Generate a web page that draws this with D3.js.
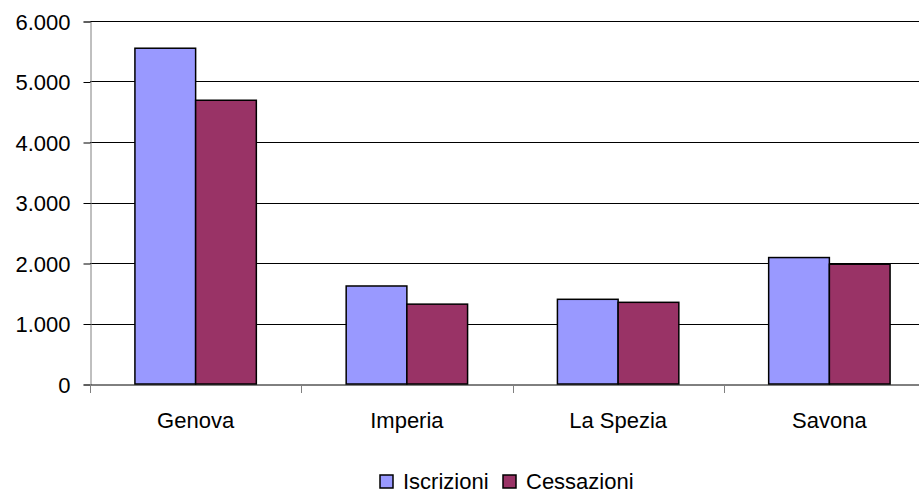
<!DOCTYPE html>
<html>
<head>
<meta charset="utf-8">
<script src="https://cdn.jsdelivr.net/npm/d3@7"></script>
<style>
  body { margin: 0; background: #fff; }
  text { font-family: Arial, "Liberation Sans", sans-serif; }
</style>
</head>
<body>
<div id="chart"></div>
<script>
// data
var provinces = ['Genova', 'Imperia', 'La Spezia', 'Savona']
var seriesNames = ['Iscrizioni', 'Cessazioni']
var iscrizioni = [5550, 1620, 1400, 2090]
var cessazioni = [4690, 1320, 1350, 1980]
var yTicks = [0, 1000, 2000, 3000, 4000, 5000, 6000]
var seriesColors = ['#9999FF', '#993366']

var width = 919
var height = 494

var margin = {
  top: 21,
  left: 90,
  bottom: 110
}

var svg = d3
  .select('#chart')
  .append('svg')
  .attr('width', width)
  .attr('height', height)

var itFormat = d3.formatLocale({
  decimal: ',',
  thousands: '.',
  grouping: [3],
  currency: ['€', '']
}).format(',')

var yScale = d3
  .scaleLinear()
  .domain([0, 6000])
  .range([height - margin.bottom, margin.top])

// the plot runs past the right edge of the picture, as in the original
var xScale = d3
  .scaleBand()
  .domain(provinces)
  .range([margin.left, margin.left + 4 * 211.25])

var xInner = d3
  .scaleBand()
  .domain(seriesNames)
  .range([0, xScale.bandwidth()])
  .paddingOuter(0.74)

var rows = provinces.map(function(p, i) {
  return { province: p, values: [iscrizioni[i], cessazioni[i]] }
})

// gridlines
svg
  .append('g')
  .selectAll('line')
  .data(yTicks.slice(1))
  .enter()
  .append('line')
  .attr('x1', margin.left)
  .attr('x2', width)
  .attr('y1', d => Math.round(yScale(d)) + 0.5)
  .attr('y2', d => Math.round(yScale(d)) + 0.5)
  .attr('stroke', '#000')
  .attr('stroke-width', 1)

// y axis
var yAxis = svg
  .append('g')
  .attr('transform', 'translate(' + (margin.left + 0.5) + ',0.5)')
  .call(
    d3.axisLeft(yScale)
      .tickValues(yTicks)
      .tickFormat(itFormat)
      .tickSize(7)
      .tickPadding(13)
  )
yAxis.select('.domain').attr('stroke', '#808080')
yAxis.selectAll('.tick line').attr('stroke', '#000')
yAxis
  .selectAll('.tick text')
  .attr('font-size', 22)
  .attr('fill', '#000')
  .attr('font-family', 'Arial, "Liberation Sans", sans-serif')
  .attr('dy', '0.35em')

// bars
var groups = svg
  .selectAll('.province')
  .data(rows)
  .enter()
  .append('g')
  .attr('class', 'province')
  .attr('transform', d => 'translate(' + xScale(d.province) + ',0)')

groups
  .selectAll('rect')
  .data(d => d.values.map((v, j) => ({ key: seriesNames[j], value: v, idx: j })))
  .enter()
  .append('rect')
  .attr('x', d => xInner(d.key))
  .attr('y', d => yScale(d.value))
  .attr('width', xInner.bandwidth())
  .attr('height', d => yScale(0) - yScale(d.value))
  .attr('fill', d => seriesColors[d.idx])
  .attr('stroke', '#000')
  .attr('stroke-width', 1.5)

// x axis
var xAxis = svg
  .append('g')
  .attr('transform', 'translate(0,' + (Math.round(yScale(0)) + 0.5) + ')')
  .call(d3.axisBottom(xScale).tickSize(0).tickPadding(28))
xAxis.select('.domain').attr('stroke', '#000')
xAxis
  .selectAll('.tick text')
  .attr('font-size', 22)
  .attr('fill', '#000')
  .attr('font-family', 'Arial, "Liberation Sans", sans-serif')

// tick marks between categories
svg
  .append('g')
  .selectAll('line')
  .data(provinces)
  .enter()
  .append('line')
  .attr('x1', d => Math.round(xScale(d)) + 0.5)
  .attr('x2', d => Math.round(xScale(d)) + 0.5)
  .attr('y1', yScale(0))
  .attr('y2', yScale(0) + 9)
  .attr('stroke', '#808080')

// legend
var legendX = [380, 503]
var legend = svg
  .selectAll('.legend-entry')
  .data(seriesNames)
  .enter()
  .append('g')
  .attr('class', 'legend-entry')
  .attr('transform', (d, i) => 'translate(' + legendX[i] + ',475)')

legend
  .append('rect')
  .attr('width', 13)
  .attr('height', 13)
  .attr('fill', (d, i) => seriesColors[i])
  .attr('stroke', '#000')
  .attr('stroke-width', 1.5)

legend
  .append('text')
  .text(d => d)
  .attr('x', 23)
  .attr('y', 14)
  .attr('font-size', 22)
  .attr('fill', '#000')
</script>
</body>
</html>
